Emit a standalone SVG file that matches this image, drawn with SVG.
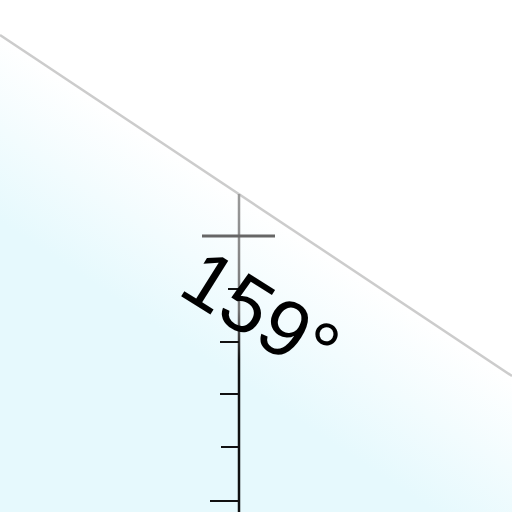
<svg xmlns="http://www.w3.org/2000/svg" width="512" height="512" viewBox="0 0 512 512">
<defs>
<linearGradient id="sky" gradientUnits="userSpaceOnUse" x1="256" y1="206" x2="170" y2="335">
<stop offset="0" stop-color="#ffffff"/>
<stop offset="1" stop-color="#e6f9fd"/>
</linearGradient>
<linearGradient id="axis" gradientUnits="userSpaceOnUse" x1="0" y1="194" x2="0" y2="360">
<stop offset="0" stop-color="#9a9a9a"/>
<stop offset="0.7" stop-color="#777777"/>
<stop offset="1" stop-color="#111111"/>
</linearGradient>
</defs>
<style>
.tick{stroke:#111;stroke-width:2}
.label{font-family:"Liberation Sans",Arial,sans-serif;font-size:80px;fill:#000}
</style>
<rect width="512" height="512" fill="#ffffff"/>
<g id="face">
<polygon points="0,35 512,376 512,512 0,512" fill="url(#sky)"/>
<line x1="0" y1="35" x2="512" y2="376" stroke="#cccccc" stroke-width="2.5"/>
</g>
<g id="scale">
<line x1="239" y1="194" x2="239" y2="512" stroke="url(#axis)" stroke-width="2.5"/>
<line x1="202" y1="236" x2="275" y2="236" stroke="#666" stroke-width="3"/>
<line class="tick" x1="228" y1="289" x2="239" y2="289" stroke="#777"/>
<line class="tick" x1="220" y1="342" x2="239" y2="342"/>
<line class="tick" x1="220" y1="394" x2="239" y2="394"/>
<line class="tick" x1="221" y1="447" x2="239" y2="447"/>
<line class="tick" x1="210" y1="501" x2="239" y2="501"/>
</g>
<g id="heading">
<text class="label" transform="translate(176,293) rotate(32)">159°</text>
</g>
</svg>
